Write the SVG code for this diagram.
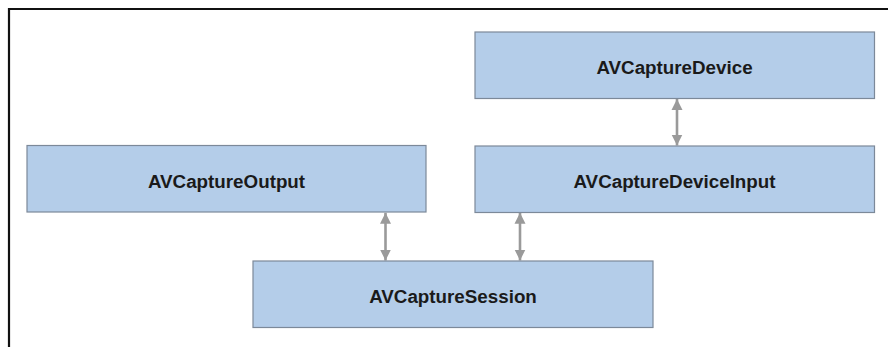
<svg xmlns="http://www.w3.org/2000/svg" width="888" height="347" viewBox="0 0 888 347">
<style>
.box{fill:#b4cde9;stroke:#7c8999;stroke-width:1.2}
.lbl{font-family:"Liberation Sans",Arial,sans-serif;font-weight:bold;font-size:18.8px;fill:#1a1a1a;text-anchor:middle}
.conn{stroke:#9a9a9a;stroke-width:2.6;fill:none;marker-start:url(#ah);marker-end:url(#ah)}
</style>
<defs>
<marker id="ah" viewBox="0 0 10 10" refX="10" refY="5" markerWidth="11" markerHeight="12" orient="auto-start-reverse" markerUnits="userSpaceOnUse">
<path d="M0,0 L10,5 L0,10 z" fill="#9a9a9a"/>
</marker>
</defs>
<rect x="0" y="0" width="888" height="347" fill="#fff"/>
<g id="frame">
<line x1="8" y1="9" x2="888" y2="9" stroke="#111" stroke-width="2.2"/>
<line x1="9" y1="8" x2="9" y2="347" stroke="#111" stroke-width="2.2"/>
</g>
<g id="connectors">
<line class="conn" x1="677" y1="99" x2="677" y2="145.5"/>
<line class="conn" x1="385.5" y1="212.8" x2="385.5" y2="260.5"/>
<line class="conn" x1="520" y1="212.8" x2="520" y2="260.5"/>
</g>
<g id="device">
<rect class="box" x="475" y="32" width="399.5" height="66.5"/>
<text class="lbl" x="674.5" y="74">AVCaptureDevice</text>
</g>
<g id="deviceInput">
<rect class="box" x="475" y="146" width="399.5" height="66.5"/>
<text class="lbl" x="674.5" y="188">AVCaptureDeviceInput</text>
</g>
<g id="output">
<rect class="box" x="27" y="145.5" width="399" height="66.5"/>
<text class="lbl" x="226.5" y="187.5">AVCaptureOutput</text>
</g>
<g id="session">
<rect class="box" x="253" y="261" width="400" height="66.5"/>
<text class="lbl" x="453" y="303">AVCaptureSession</text>
</g>
</svg>
